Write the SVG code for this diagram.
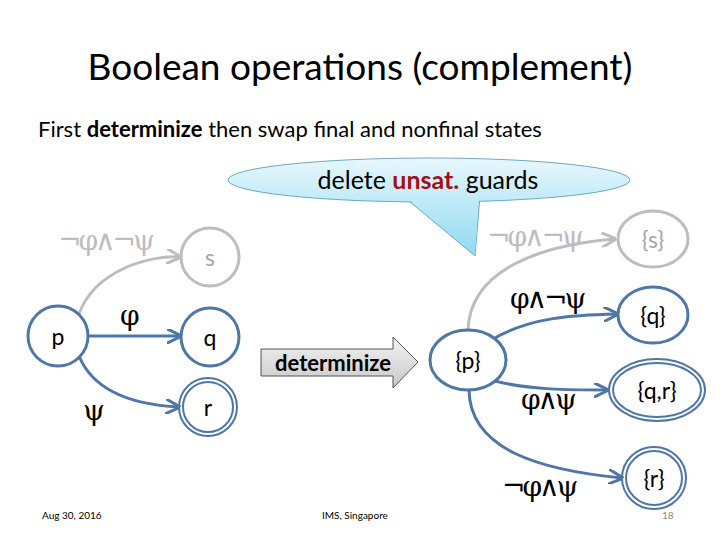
<svg xmlns="http://www.w3.org/2000/svg" width="720" height="540" viewBox="0 0 720 540">
<style>
.t{font-family:Lato,"Open Sans",sans-serif;fill:#000}
.g{font-family:"DejaVu Serif",serif;font-size:28px;letter-spacing:-3px}
.blue{fill:none;stroke:#4e76a8;stroke-width:3}
.grey{fill:none;stroke:#bdbdbd;stroke-width:3}
.dbl{fill:none;stroke:#4e76a8;stroke-width:2}
</style>
<defs>
<marker id="ab" viewBox="0 0 10 10" refX="9" refY="5" markerWidth="5" markerHeight="5" orient="auto"><path d="M0,0 L10,5 L0,10" fill="none" stroke="#4e76a8" stroke-width="2"/></marker>
<marker id="ag" viewBox="0 0 10 10" refX="9" refY="5" markerWidth="5" markerHeight="5" orient="auto"><path d="M0,0 L10,5 L0,10" fill="none" stroke="#bdbdbd" stroke-width="2"/></marker>
<linearGradient id="cg" gradientUnits="userSpaceOnUse" x1="0" y1="158" x2="0" y2="256"><stop offset="0" stop-color="#e8f7fc"/><stop offset="1" stop-color="#8fdaf3"/></linearGradient>
<linearGradient id="dg" x1="0" y1="0" x2="0" y2="1"><stop offset="0" stop-color="#f2f2f2"/><stop offset="1" stop-color="#c8c8c8"/></linearGradient>
</defs>
<rect width="720" height="540" fill="#fff"/>
<text class="t" x="360" y="80" font-size="37" text-anchor="middle">Boolean operations (complement)</text>
<text class="t" x="38" y="137" font-size="22">First <tspan font-weight="bold">determinize</tspan> then swap final and nonfinal states</text>
<g id="callout">
<path d="M403,196 L475,256 L480,196 Z" fill="url(#cg)" stroke="#6aa9c4" stroke-width="1"/>
<ellipse cx="429" cy="180" rx="201" ry="22" fill="url(#cg)" stroke="#6aa9c4" stroke-width="1"/>
<path d="M404,195 L475,255 L479,195 Z" fill="url(#cg)"/>
<text class="t" x="428" y="189" font-size="25" text-anchor="middle">delete <tspan fill="#a50f15" font-weight="bold">unsat.</tspan> guards</text>
</g>
<g id="connectors">
<path class="grey" d="M79,314 C95,270 150,255 180,257" marker-end="url(#ag)"/>
<path class="blue" d="M88,336 L180,336" marker-end="url(#ab)"/>
<path class="blue" d="M79,356 C95,395 140,405 179,407" marker-end="url(#ab)"/>
<path class="grey" d="M468,330 C470,270 540,245 615,239" marker-end="url(#ag)"/>
<path class="blue" d="M495,338 C530,318 570,315 617,314" marker-end="url(#ab)"/>
<path class="blue" d="M495,381 C530,390 570,390 607,390" marker-end="url(#ab)"/>
<path class="blue" d="M469,390 C470,450 540,470 622,478" marker-end="url(#ab)"/>
<text class="g" x="58" y="250" fill="#bdbdbd">¬φ∧¬ψ</text><text class="g" x="487" y="246" fill="#bdbdbd">¬φ∧¬ψ</text>
<text class="g" x="120" y="325">φ</text>
<text class="g" x="83" y="420">ψ</text>
<text class="g" x="510" y="308">φ∧¬ψ</text>
<text class="g" x="521" y="409">φ∧ψ</text>
<text class="g" x="502" y="496">¬φ∧ψ</text>
</g>
<g id="determinize">
<path d="M261,349 L393,349 L393,337 L418,362 L393,388 L393,376 L261,376 Z" fill="url(#dg)" stroke="#555" stroke-width="1"/>
<text class="t" x="333" y="371" font-size="22" font-weight="bold" text-anchor="middle">determinize</text>
</g>
<g id="s"><circle cx="210" cy="257" r="29" class="grey"/><text class="t" x="210" y="266" font-size="23" text-anchor="middle" style="fill:#a6a6a6">s</text></g>
<g id="p"><circle cx="58" cy="336" r="30" class="blue"/><text class="t" x="58" y="345" font-size="23" text-anchor="middle">p</text></g>
<g id="q"><circle cx="210" cy="337" r="29" class="blue"/><text class="t" x="210" y="346" font-size="23" text-anchor="middle">q</text></g>
<g id="r"><circle cx="208" cy="407" r="29" class="dbl"/><circle cx="208" cy="407" r="25" class="dbl"/><text class="t" x="208" y="416" font-size="23" text-anchor="middle">r</text></g>
<g id="S"><ellipse cx="653" cy="239" rx="35" ry="28" class="grey"/><text class="t" x="653" y="248" font-size="23" text-anchor="middle" style="fill:#a6a6a6">{s}</text></g>
<g id="Q"><ellipse cx="653" cy="315" rx="35" ry="28" class="blue"/><text class="t" x="653" y="324" font-size="23" text-anchor="middle">{q}</text></g>
<g id="P"><ellipse cx="468" cy="360" rx="38" ry="30" class="blue"/><text class="t" x="468" y="369" font-size="23" text-anchor="middle">{p}</text></g>
<g id="QR"><ellipse cx="657" cy="390" rx="48" ry="31" class="dbl"/><ellipse cx="657" cy="390" rx="44" ry="27" class="dbl"/><text class="t" x="657" y="399" font-size="23" text-anchor="middle">{q,r}</text></g>
<g id="R"><ellipse cx="654" cy="478" rx="32" ry="31" class="dbl"/><ellipse cx="654" cy="478" rx="28" ry="27" class="dbl"/><text class="t" x="654" y="487" font-size="23" text-anchor="middle">{r}</text></g>
<text class="t" x="42" y="519" font-size="10">Aug 30, 2016</text>
<text class="t" x="322" y="519" font-size="10">IMS, Singapore</text>
<text class="t" x="662" y="519" font-size="10" style="fill:#888">18</text>
</svg>
